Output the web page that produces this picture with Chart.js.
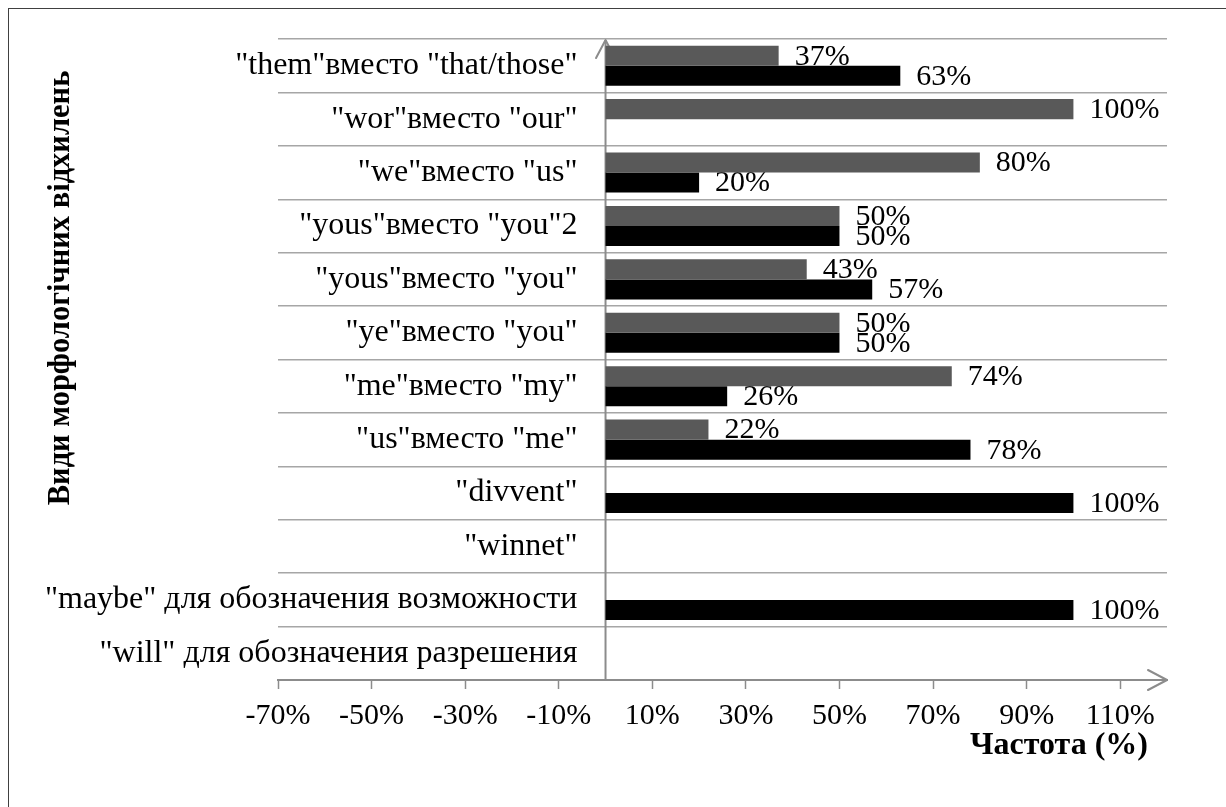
<!DOCTYPE html>
<html><head><meta charset="utf-8">
<script src="https://cdn.jsdelivr.net/npm/chart.js@4/dist/chart.umd.min.js"></script>
<style>html,body{margin:0;padding:0;background:#fff;}canvas{display:block;}</style>
</head><body>
<canvas id="c" width="1226" height="807"></canvas>
<script>
const categories = ['"them"вместо "that/those"', '"wor"вместо "our"', '"we"вместо "us"', '"yous"вместо "you"2', '"yous"вместо "you"', '"ye"вместо "you"', '"me"вместо "my"', '"us"вместо "me"', '"divvent"', '"winnet"', '"maybe" для обозначения возможности', '"will" для обозначения разрешения'];
const seriesGray  = [37, 100, 80, 50, 43, 50, 74, 22, null, null, null, null];
const seriesBlack = [63, null, 20, 50, 57, 50, 26, 78, 100, null, 100, null];
const tickValues = [-70, -50, -30, -10, 10, 30, 50, 70, 90, 110];
const tickLabels = ['-70%', '-50%', '-30%', '-10%', '10%', '30%', '50%', '70%', '90%', '110%'];
const axisMin = -70, axisMax = 120;
const xTitle = 'Частота (%)';
const yTitle = 'Види морфологічних відхилень';

const FONT = "'Liberation Serif', 'Times New Roman', serif";
const AXIS = '#8c8c8c';
Chart.defaults.font.family = FONT;
Chart.defaults.font.size = 30;
Chart.defaults.color = '#000';

const deco = {
  id: 'deco',
  beforeDatasetsDraw(chart) {
    const ctx = chart.ctx;
    const a = chart.chartArea;
    const x0 = chart.scales.x.getPixelForValue(0);
    ctx.save();
    ctx.strokeStyle = AXIS; ctx.lineWidth = 2; ctx.lineCap = 'butt';
    // vertical axis line at value 0 of the x scale
    ctx.beginPath();
    ctx.moveTo(x0, a.bottom); ctx.lineTo(x0, a.top + 1);
    ctx.stroke();
    ctx.lineCap = 'round'; ctx.lineJoin = 'round';
    ctx.beginPath();
    ctx.moveTo(x0 - 9.5, a.top + 19); ctx.lineTo(x0, a.top + 1); ctx.lineTo(x0 + 9.5, a.top + 19);
    ctx.stroke();
    ctx.beginPath();
    ctx.moveTo(a.right - 19, a.bottom - 10); ctx.lineTo(a.right, a.bottom); ctx.lineTo(a.right - 19, a.bottom + 10);
    ctx.stroke();
    ctx.fillStyle = '#000';
    ctx.font = '30px ' + FONT;
    ctx.textAlign = 'left'; ctx.textBaseline = 'middle';
    chart.data.datasets.forEach((ds, di) => {
      const meta = chart.getDatasetMeta(di);
      meta.data.forEach((bar, i) => {
        const v = ds.data[i];
        if (v === null || v === undefined) return;
        ctx.fillText(v + '%', bar.x + 16, bar.y + 1);
      });
    });
    ctx.restore();
  },
  afterDraw(chart) {
    const ctx = chart.ctx;
    ctx.save();
    ctx.fillStyle = '#000';
    ctx.font = 'bold 32px ' + FONT;
    ctx.textAlign = 'right'; ctx.textBaseline = 'middle';
    ctx.fillText(xTitle, 1148, 746);
    ctx.font = 'bold 30.5px ' + FONT;
    ctx.translate(61, 288);
    ctx.rotate(-Math.PI / 2);
    ctx.textAlign = 'center';
    ctx.fillText(yTitle, 0, 0);
    ctx.restore();
    ctx.save();
    ctx.strokeStyle = '#404040'; ctx.lineWidth = 1;
    ctx.strokeRect(8.5, 8.5, 1230, 810);
    ctx.restore();
  }
};

const zeroPad = s => { s.paddingTop = 0; s.paddingBottom = 0; s.paddingLeft = 0; s.paddingRight = 0; };

new Chart(document.getElementById('c'), {
  type: 'bar',
  data: {
    labels: categories,
    datasets: [
      { data: seriesGray, backgroundColor: '#595959', categoryPercentage: 0.75, barPercentage: 1 },
      { data: seriesBlack, backgroundColor: '#000000', categoryPercentage: 0.75, barPercentage: 1 }
    ]
  },
  options: {
    indexAxis: 'y',
    responsive: false,
    animation: false,
    devicePixelRatio: 1,
    layout: { padding: { left: 278, right: 59, top: 39, bottom: 67 } },
    plugins: { legend: { display: false }, tooltip: { enabled: false } },
    scales: {
      x: {
        type: 'linear', min: axisMin, max: axisMax,
        afterBuildTicks: s => { s.ticks = tickValues.map(v => ({ value: v })); },
        afterFit: s => { s.height = 60; zeroPad(s); },
        grid: { display: true, drawOnChartArea: false, drawTicks: true, tickLength: 9, tickColor: AXIS, tickWidth: 1.5 },
        border: { display: true, color: AXIS, width: 2 },
        ticks: { padding: 9, color: '#000', font: { size: 30 }, maxRotation: 0, autoSkip: false,
                 callback: (v, i) => tickLabels[i] }
      },
      y: {
        type: 'category', position: { x: -6 },
        afterFit: zeroPad,
        grid: { offset: true, color: '#a6a6a6', lineWidth: 1.5, drawTicks: false },
        border: { display: false },
        ticks: { padding: 0, color: '#000', font: { size: 32 }, autoSkip: false }
      }
    }
  },
  plugins: [deco]
});
</script>
</body></html>
